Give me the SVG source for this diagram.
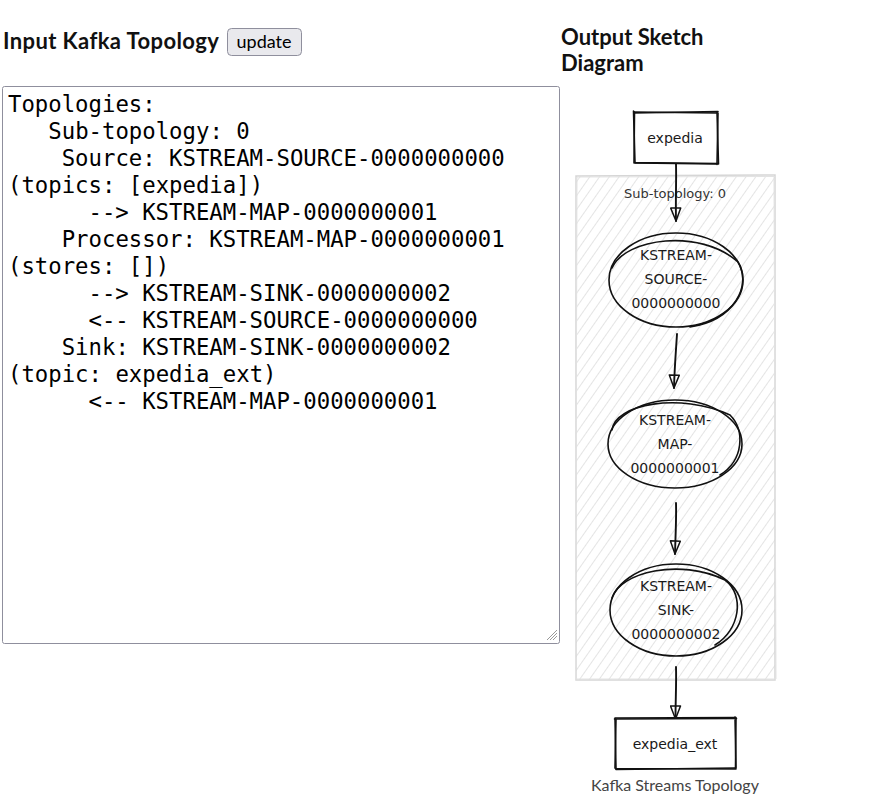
<svg xmlns="http://www.w3.org/2000/svg" width="871" height="806" viewBox="0 0 871 806">
<style>
.h{font-family:Lato,"Noto Sans",sans-serif;font-weight:bold;font-size:22px;fill:#111}
.code{font-family:"DejaVu Sans Mono",monospace;font-size:22.3px;fill:#000}
.lbl{font-family:"DejaVu Sans",sans-serif;font-size:14px;fill:#1a1a1a;text-anchor:middle}
.sub{font-family:"DejaVu Sans",sans-serif;font-size:13px;fill:#333;text-anchor:middle}
.sk{fill:none;stroke:#111;stroke-width:1.6;stroke-linecap:round}
.edge{fill:none;stroke:#111;stroke-width:1.9;stroke-linecap:round}
</style>
<defs>
<pattern id="hatch" patternUnits="userSpaceOnUse" width="8" height="8" patternTransform="rotate(35)">
<line x1="0" y1="0" x2="0" y2="8" stroke="#c9c9c9" stroke-width="1"/>
</pattern>
<marker id="ah" viewBox="0 0 15 12" refX="14" refY="6" markerWidth="15" markerHeight="12" markerUnits="userSpaceOnUse" orient="auto">
<path d="M1 1 L14 6 L1 11 Z" fill="none" stroke="#111" stroke-width="1.5" stroke-linejoin="round"/>
</marker>
</defs>
<rect width="871" height="806" fill="#fff"/>

<g id="input-header">
<text class="h" x="3" y="49" letter-spacing="0.4">Input Kafka Topology</text>
<rect x="227.5" y="28.5" width="74" height="27" rx="4" fill="#e9e9ed" stroke="#8f8f9d"/>
<text x="264" y="48" text-anchor="middle" font-family="Lato,'Noto Sans',sans-serif" font-size="18" fill="#000">update</text>
</g>

<g id="textarea">
<rect x="2.5" y="86.5" width="557" height="557" rx="2" fill="#fff" stroke="#8f8f9d"/>
<g stroke="#999" stroke-width="1">
<line x1="547" y1="640" x2="557" y2="630"/>
<line x1="550" y1="640" x2="557" y2="633"/>
<line x1="553" y1="640" x2="557" y2="636"/>
</g>
<text class="code" x="8" y="112">Topologies:</text>
<text class="code" x="48.3" y="139">Sub-topology: 0</text>
<text class="code" x="61.7" y="166">Source: KSTREAM-SOURCE-0000000000</text>
<text class="code" x="8" y="193">(topics: [expedia])</text>
<text class="code" x="88.5" y="220">--&gt; KSTREAM-MAP-0000000001</text>
<text class="code" x="61.7" y="247">Processor: KSTREAM-MAP-0000000001</text>
<text class="code" x="8" y="274">(stores: [])</text>
<text class="code" x="88.5" y="301">--&gt; KSTREAM-SINK-0000000002</text>
<text class="code" x="88.5" y="328">&lt;-- KSTREAM-SOURCE-0000000000</text>
<text class="code" x="61.7" y="355">Sink: KSTREAM-SINK-0000000002</text>
<text class="code" x="8" y="382">(topic: expedia_ext)</text>
<text class="code" x="88.5" y="409">&lt;-- KSTREAM-MAP-0000000001</text>
</g>

<g id="output-header">
<text class="h" x="561" y="45">Output Sketch</text>
<text class="h" x="561" y="71">Diagram</text>
</g>

<g id="subtopology-0">
<rect x="576" y="176" width="199" height="504" fill="url(#hatch)"/>
<path d="M576 176 L775 175 L775 680 L576 680 Z" fill="none" stroke="#d6d6d6" stroke-width="1.5"/>
<path d="M577 177 L774 176.5 L776 679 L575.5 679 Z" fill="none" stroke="#e2e2e2" stroke-width="1"/>
<text class="sub" x="675" y="198">Sub-topology: 0</text>
</g>

<g id="connectors">
<path class="edge" d="M676 164 C676.5 180 675.5 198 676 221" marker-end="url(#ah)"/>
<path class="edge" d="M677 334 C676 350 674.5 368 674 388" marker-end="url(#ah)"/>
<path class="edge" d="M676 503 C676.5 518 675.5 535 675 554" marker-end="url(#ah)"/>
<path class="edge" d="M676 667 C676.5 684 675.5 700 675.5 719" marker-end="url(#ah)"/>
</g>

<g id="expedia">
<rect x="634" y="112" width="84" height="52" fill="#fff"/>
<path class="sk" d="M634 112 L717 113 M717 112 L718.5 164 M718 163.5 L634.5 162.5 M634 163 L634.5 112"/>
<path class="sk" d="M633.5 113 L718 111.5 M718 113 L717 164.5 M717.5 164 L635 163 M635 163 L633.5 111" stroke-width="1"/>
<text class="lbl" x="675" y="143" font-size="13">expedia</text>
</g>

<g id="kstream-source">
<ellipse cx="676" cy="280" rx="67" ry="47" fill="none" class="sk"/>
<path class="sk" d="M612 268 C625 238 700 228 738 262 C752 285 735 320 690 327" stroke-width="1"/>
<text class="lbl" x="676" y="260">KSTREAM-</text>
<text class="lbl" x="676" y="284">SOURCE-</text>
<text class="lbl" x="676" y="308">0000000000</text>
</g>

<g id="kstream-map">
<ellipse cx="675" cy="444" rx="67" ry="44" fill="none" class="sk"/>
<path class="sk" d="M612 430 C615 404 680 392 730 415 C745 430 744 460 720 475" stroke-width="1"/>
<text class="lbl" x="675" y="425">KSTREAM-</text>
<text class="lbl" x="675" y="449">MAP-</text>
<text class="lbl" x="675" y="473">0000000001</text>
</g>

<g id="kstream-sink">
<ellipse cx="676" cy="610" rx="66" ry="46" fill="none" class="sk"/>
<path class="sk" d="M612 598 C620 572 680 558 725 580 C745 595 740 630 715 645" stroke-width="1"/>
<text class="lbl" x="676" y="591">KSTREAM-</text>
<text class="lbl" x="676" y="615">SINK-</text>
<text class="lbl" x="676" y="639">0000000002</text>
</g>

<g id="expedia_ext">
<rect x="615" y="718" width="121" height="51" fill="#fff"/>
<path class="sk" d="M615 718 L736 717.5 M736 718 L735.5 769 M736 769 L615.5 768.5 M616 769 L615 718"/>
<path class="sk" d="M614.5 719 L736.5 718.5 M735 717 L736 768 M735 768 L616 769.5 M615 768 L616 719" stroke-width="1"/>
<text class="lbl" x="675" y="749" font-size="13">expedia_ext</text>
</g>

<text x="675" y="791" text-anchor="middle" font-family="Lato,'Noto Sans',sans-serif" font-size="16" fill="#444">Kafka Streams Topology</text>
</svg>
